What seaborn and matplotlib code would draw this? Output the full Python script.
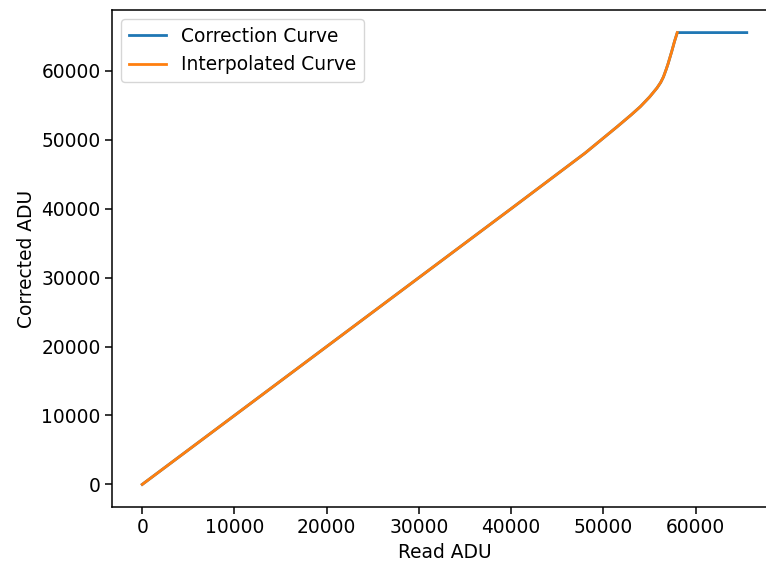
import matplotlib
matplotlib.use('Agg')
import matplotlib.pyplot as plt
import seaborn as sns

# correction curve (read ADU -> corrected ADU), saturates at 65535
read_adu = [0, 10000, 20000, 30000, 40000, 48000, 50000, 51500, 53000, 54000,
            55000, 55800, 56200, 56500, 56800, 57000, 57400, 57700, 58000, 65535]
corrected_adu = [0, 10000, 20000, 30000, 40000, 48050, 50250, 51900, 53600, 54800,
                 56200, 57500, 58300, 59100, 60200, 61000, 62800, 64250, 65535, 65535]

# interpolated curve, stops where the correction saturates
interp_read = [0, 10000, 20000, 30000, 40000, 48000, 50000, 51500, 53000, 54000,
               55000, 55800, 56200, 56500, 56800, 57000, 57400, 57700, 58000]
interp_corr = [0, 10000, 20000, 30000, 40000, 48050, 50250, 51900, 53600, 54800,
               56200, 57500, 58300, 59100, 60200, 61000, 62800, 64250, 65535]

plt.rcParams['font.size'] = 13.4

fig = plt.figure(figsize=(7.66, 5.65), dpi=100)
ax = fig.add_axes([112/766, 58/565, 665/766, 497/565])

sns.lineplot(x=read_adu, y=corrected_adu, ax=ax, color='#1f77b4', lw=2,
             label='Correction Curve', sort=False)
sns.lineplot(x=interp_read, y=interp_corr, ax=ax, color='#ff7f0e', lw=2,
             label='Interpolated Curve', sort=False)

ax.set_xlabel('Read ADU')
ax.set_ylabel('Corrected ADU')
ax.set_xticks([0, 10000, 20000, 30000, 40000, 50000, 60000])
ax.set_yticks([0, 10000, 20000, 30000, 40000, 50000, 60000])
ax.set_xlim(-3277, 68812)
ax.set_ylim(-3277, 68812)
ax.tick_params(length=4.7, width=1.1)
for s in ax.spines.values():
    s.set_linewidth(1.1)
ax.legend(loc='upper left', handlelength=2.0)

fig.savefig('out.png', dpi=100)
